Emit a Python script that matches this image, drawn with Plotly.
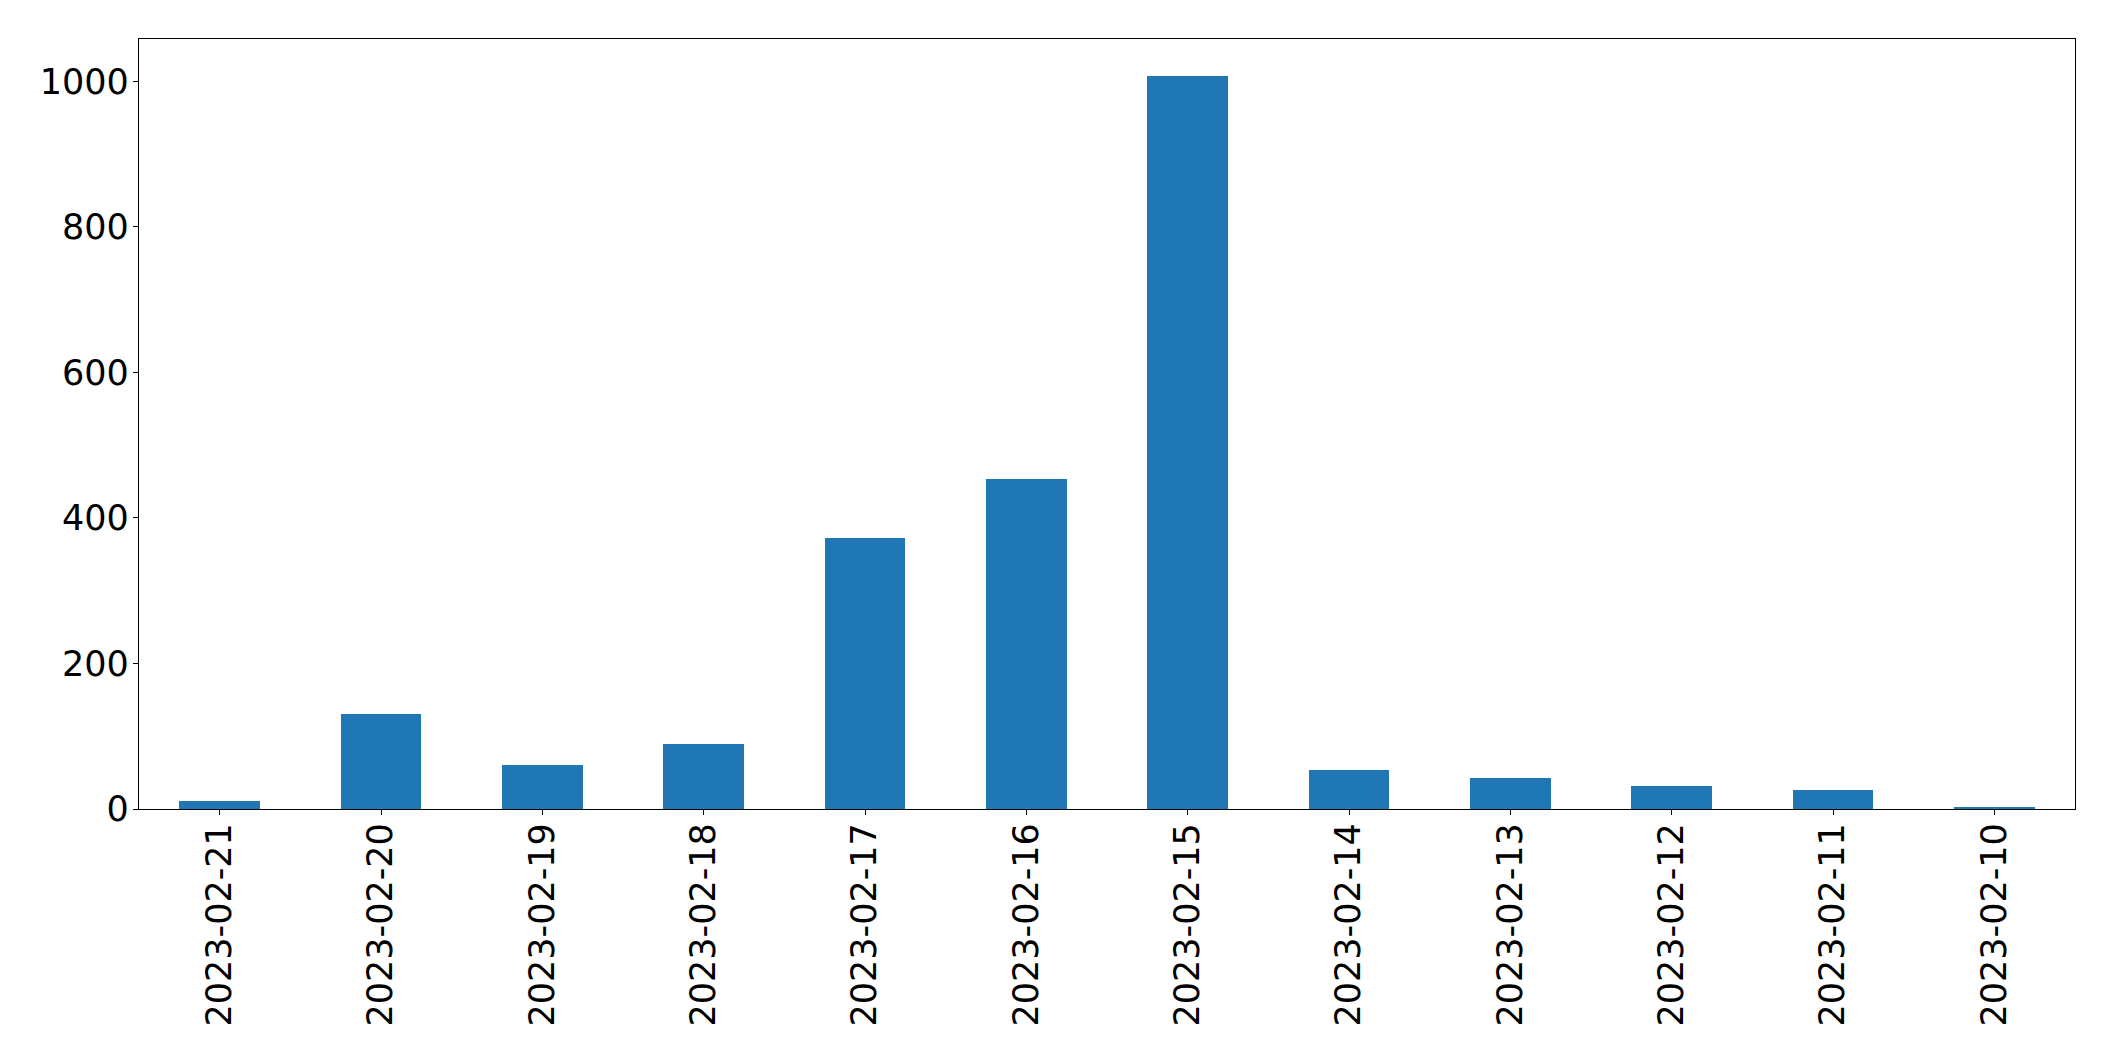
import plotly.graph_objects as go

dates = ["2023-02-21", "2023-02-20", "2023-02-19", "2023-02-18", "2023-02-17", "2023-02-16",
         "2023-02-15", "2023-02-14", "2023-02-13", "2023-02-12", "2023-02-11", "2023-02-10"]
counts = [11, 130, 61, 90, 373, 453, 1008, 53, 42, 32, 26, 2]
y_ticks = [0, 200, 400, 600, 800, 1000]

fig = go.Figure()
fig.add_trace(go.Bar(x=list(range(len(dates))), y=counts, width=0.5,
                     marker=dict(color="#1f77b4", line=dict(width=0))))

font = dict(family="DejaVu Sans", size=35, color="black")
fig.update_layout(
    width=2115, height=1061,
    margin=dict(l=139, r=40, t=39, b=252, pad=0),
    plot_bgcolor="white", paper_bgcolor="white",
    font=font, showlegend=False, bargap=0,
)
fig.update_xaxes(
    range=[-0.5, len(dates) - 0.5],
    tickmode="array", tickvals=list(range(len(dates))), ticktext=dates,
    tickangle=-90, ticks="outside", ticklen=5, tickwidth=1, tickcolor="black",
    ticklabelstandoff=-6,
    showline=True, linecolor="black", linewidth=1.3, mirror=True,
    showgrid=False, zeroline=False, tickfont=font,
)
fig.update_yaxes(
    range=[0, 1058.4],
    tickmode="array", tickvals=y_ticks, ticktext=[str(v) for v in y_ticks],
    ticks="outside", ticklen=5, tickwidth=1, tickcolor="black",
    ticklabelstandoff=-3,
    showline=True, linecolor="black", linewidth=1.3, mirror=True,
    showgrid=False, zeroline=False, tickfont=font,
)
fig.write_html("out.html")
